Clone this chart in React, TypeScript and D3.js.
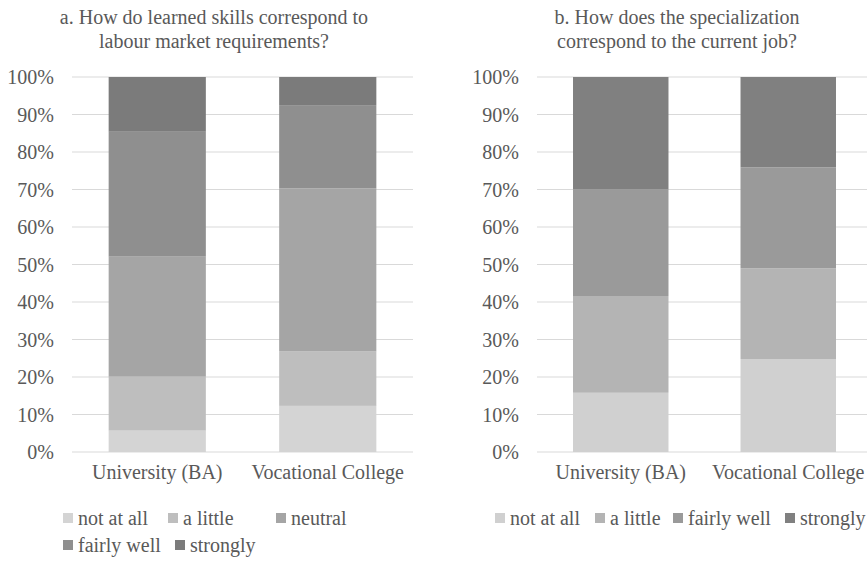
import React from "react";
import * as d3 from "d3";

const categories = ["University (BA)", "Vocational College"];
const yTicks = [0, 10, 20, 30, 40, 50, 60, 70, 80, 90, 100];

const seriesA = ["not at all", "a little", "neutral", "fairly well", "strongly"];
const valuesA_uni = [5.7, 14.4, 32.0, 33.3, 14.6];
const valuesA_voc = [12.3, 14.6, 43.4, 22.2, 7.5];
const colorsA = ["#d4d4d4", "#bebebe", "#a5a5a5", "#8f8f8f", "#7b7b7b"];
const titleA = ["a. How do learned skills correspond to", "labour market requirements?"];

const seriesB = ["not at all", "a little", "fairly well", "strongly"];
const valuesB_uni = [15.8, 25.8, 28.4, 30.0];
const valuesB_voc = [24.8, 24.2, 26.9, 24.1];
const colorsB = ["#d0d0d0", "#b4b4b4", "#9a9a9a", "#808080"];
const titleB = ["b. How does the specialization", "correspond to the current job?"];

const FONT = "Liberation Serif";
const TEXT = "#595959";

type PanelProps = {
  series: string[];
  values: number[][];
  colors: string[];
  title: string[];
  x0: number;
  x1: number;
  titleCx: number;
  legendPos: [number, number][];
};

const txt = { fontFamily: FONT, fontSize: 20, fill: TEXT } as React.CSSProperties;

function Panel({ series, values, colors, title, x0, x1, titleCx, legendPos }: PanelProps) {
  const y = d3.scaleLinear().domain([0, 100]).range([452, 77]);
  const x = d3.scaleBand<string>().domain(categories).range([x0, x1]).paddingInner(0.43).paddingOuter(0.215);
  const stacked = categories.map((c, ci) => {
    let acc = 0;
    return values[ci].map((v, si) => {
      const s = acc;
      acc += v;
      return { c, si, y0: s, y1: acc };
    });
  });
  return (
    <g>
      {title.map((t, i) => (
        <text key={i} x={titleCx} y={24 + i * 24} textAnchor="middle" style={txt}>
          {t}
        </text>
      ))}
      {yTicks.map((t) => (
        <g key={t}>
          <line x1={x0} x2={x1} y1={y(t)} y2={y(t)} stroke="#d9d9d9" strokeWidth={1} />
          <text x={x0 - 18} y={y(t)} dy="0.35em" textAnchor="end" style={txt}>
            {t}%
          </text>
        </g>
      ))}
      {stacked.map((segs) =>
        segs.map((s) => (
          <rect
            key={s.c + s.si}
            x={x(s.c)}
            width={x.bandwidth()}
            y={y(s.y1)}
            height={y(s.y0) - y(s.y1)}
            fill={colors[s.si]}
          />
        ))
      )}
      {categories.map((c) => (
        <text key={c} x={(x(c) as number) + x.bandwidth() / 2} y={479} textAnchor="middle" style={txt}>
          {c}
        </text>
      ))}
      {series.map((s, i) => (
        <g key={s} transform={`translate(${legendPos[i][0]},${legendPos[i][1]})`}>
          <rect x={0} y={-5} width={10} height={10} fill={colors[i]} />
          <text x={15} y={0} dy="0.35em" style={txt}>
            {s}
          </text>
        </g>
      ))}
    </g>
  );
}

export default function App() {
  return (
    <svg width={867} height={563} style={{ position: "absolute", left: 0, top: 0, background: "#fff" }}>
      <rect width={867} height={563} fill="#fff" />
      <Panel
        series={seriesA}
        values={[valuesA_uni, valuesA_voc]}
        colors={colorsA}
        title={titleA}
        x0={72}
        x1={413}
        titleCx={214}
        legendPos={[[63, 518], [168, 518], [276, 518], [63, 545], [175, 545]]}
      />
      <Panel
        series={seriesB}
        values={[valuesB_uni, valuesB_voc]}
        colors={colorsB}
        title={titleB}
        x0={537}
        x1={872}
        titleCx={677}
        legendPos={[[495, 518], [595, 518], [673, 518], [785, 518]]}
      />
    </svg>
  );
}
